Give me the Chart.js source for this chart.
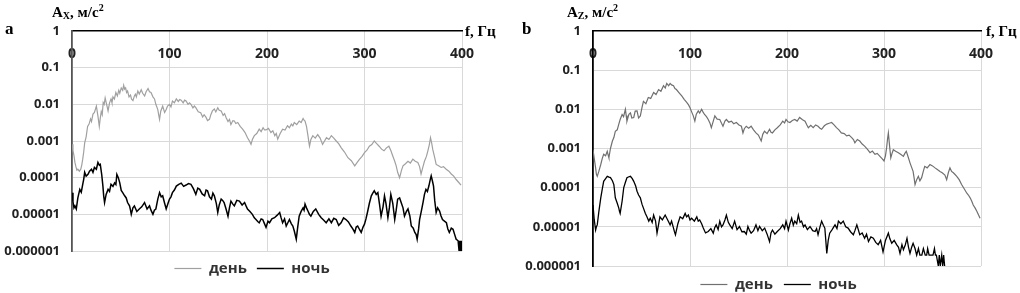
<!DOCTYPE html>
<html>
<head>
<meta charset="utf-8">
<script src="https://cdn.jsdelivr.net/npm/chart.js@4.4.0/dist/chart.umd.min.js"></script>
<style>
body { margin:0; width:1020px; height:293px; overflow:hidden; background:#fff; position:relative; }
canvas { position:absolute; top:0; }
.lbl { position:absolute; font-family:"Liberation Serif", serif; font-weight:bold; color:#000; white-space:nowrap; line-height:1; }
.lbl sub { font-size:10px; vertical-align:-2px; }
.lbl sup { font-size:10px; vertical-align:6px; }
</style>
</head>
<body>
<canvas id="chartA" width="510" height="286" style="left:0"></canvas>
<canvas id="chartB" width="510" height="302" style="left:510px"></canvas>

<div class="lbl" style="left:5px;top:20px;font-size:17px">a</div>
<div class="lbl" style="left:52px;top:3px;font-size:15px">A<sub>X</sub>, м/с<sup>2</sup></div>
<div class="lbl" style="left:465px;top:24px;font-size:15px">f, Гц</div>

<div class="lbl" style="left:522px;top:20px;font-size:17px">b</div>
<div class="lbl" style="left:567px;top:3px;font-size:15px">A<sub>Z</sub>, м/с<sup>2</sup></div>
<div class="lbl" style="left:986px;top:24px;font-size:15px">f, Гц</div>

<script>
// оси
const freqTicks = [0, 100, 200, 300, 400];
const accelTicks = [1e-6, 1e-5, 1e-4, 1e-3, 1e-2, 1e-1, 1];
const seriesNames = ["день", "ночь"];

// a - Ax, день
const aDayHz = [0,1,2,3,4,5,6,7.5,9,10,11,12,13,14.5,16,17.5,19,20,21.5,23,25,26.5,28,29,30,31,32,33,34,35.5,37,38.5,40,41,42,43.5,45,46.5,48,49,50.5,52,53,54,55,56,57,58.5,60,61,62.5,64,65,66,67.5,69,71,72.5,74.5,76,78,79.5,81,83,84.6,86,88,89,89.8,91,93,95,96.6,98,100,101.5,103,105,107,109,110.5,112,114,115.5,117,119,120.5,122,124,125.5,127,129.5,132,134,135.5,137.5,139,141,142.5,144,146,147.5,149.5,151,153,155,156.5,158,160,161.5,163,165,166.5,168,170,172.5,175,177.5,180,182,183.6,185,187,189.5,192,194,196,197.5,199,201.5,204,206,208,209.5,211,213.5,216,218.5,221,223,225,226.5,228,230.5,233,235,237,238,239,240.5,242,243,243.6,245,247,249.5,252,254.5,257,259,261,263.5,266,268.5,271,273.5,276,279.5,283,286.5,290,292.5,295,297.5,300,302.5,305,307.5,310,312.5,315,317.5,320,322.5,325,327,329,331,332.5,334,336,338,339.5,342,344.6,347,349.6,352,354.7,356.5,358,360,361.5,363.5,365,366.5,367.7,369,370,372,373.5,376,378.6,381,383.8,386.5,389,391.5,394,396.5,399];
const aDayVal = [8.1e-4,5.5e-4,4.0e-4,2.6e-4,2.0e-4,1.6e-4,1.7e-4,1.5e-4,1.7e-4,2.2e-4,3.2e-4,5.0e-4,8.9e-4,1.3e-3,2.5e-3,2.9e-3,4.0e-3,3.4e-3,5.4e-3,6.0e-3,8.9e-3,5.0e-3,2.5e-3,4.2e-3,6.3e-3,5.2e-3,1.12e-2,1.0e-2,1.5e-2,1.0e-2,6.6e-3,1.1e-2,1.4e-2,1.1e-2,1.6e-2,1.4e-2,2.1e-2,1.7e-2,2.4e-2,2.0e-2,2.8e-2,2.4e-2,3.3e-2,2.6e-2,2.8e-2,2.1e-2,2.3e-2,1.6e-2,1.8e-2,1.4e-2,1.26e-2,1.7e-2,1.9e-2,1.6e-2,2.3e-2,1.9e-2,2.5e-2,2.0e-2,1.7e-2,2.2e-2,2.7e-2,2.2e-2,2.1e-2,1.6e-2,1.4e-2,1.0e-2,7.2e-3,5.0e-3,3.9e-3,6.5e-3,8.9e-3,6.0e-3,7.2e-3,9.0e-3,1.0e-2,8.5e-3,1.23e-2,1.1e-2,1.4e-2,1.2e-2,1.35e-2,1.3e-2,1.1e-2,1.3e-2,1.23e-2,1.0e-2,1.1e-2,1.0e-2,8.0e-3,9.0e-3,8.1e-3,6.3e-3,5.9e-3,4.5e-3,5.2e-3,4.4e-3,3.6e-3,3.9e-3,5.3e-3,6.6e-3,7.5e-3,6.2e-3,8.1e-3,6.9e-3,6.6e-3,5.0e-3,5.6e-3,4.4e-3,3.4e-3,3.9e-3,2.8e-3,3.6e-3,3.5e-3,3.0e-3,3.2e-3,2.5e-3,2.1e-3,1.7e-3,1.23e-3,1.0e-3,8.1e-4,1.1e-3,1.4e-3,1.6e-3,2.1e-3,1.8e-3,2.3e-3,2.0e-3,2.0e-3,2.2e-3,1.7e-3,1.9e-3,1.4e-3,1.6e-3,1.12e-3,1.6e-3,2.1e-3,2.0e-3,2.6e-3,2.3e-3,2.9e-3,2.6e-3,3.2e-3,2.8e-3,3.5e-3,3.2e-3,4.1e-3,3.7e-3,3.5e-3,2.5e-3,1.4e-3,9.0e-4,7.2e-4,1.1e-3,1.4e-3,1.2e-3,1.5e-3,1.2e-3,8.1e-4,1.0e-3,1.23e-3,1.1e-3,1.4e-3,1.2e-3,1.0e-3,8.5e-4,6.6e-4,5.0e-4,3.5e-4,2.9e-4,2.1e-4,2.6e-4,3.2e-4,3.8e-4,4.8e-4,5.6e-4,7.2e-4,8.0e-4,1.0e-3,8.5e-4,7.2e-4,6.0e-4,5.4e-4,6.5e-4,7.2e-4,5.5e-4,3.9e-4,2.8e-4,2.1e-4,1.4e-4,1.0e-4,1.6e-4,2.1e-4,2.4e-4,2.8e-4,2.5e-4,3.2e-4,2.8e-4,2.6e-4,2.0e-4,1.26e-4,2.0e-4,2.8e-4,3.8e-4,5.4e-4,8.0e-4,1.23e-3,8.5e-4,5.9e-4,3.5e-4,2.3e-4,2.1e-4,1.9e-4,2.0e-4,1.7e-4,1.5e-4,1.26e-4,1.1e-4,8.9e-5,7.5e-5,6.3e-5];

// a - Ax, ночь
const aNightHz = [0,1,2,3,4.4,6,8,9.5,11,12,13,14.5,16.4,18,20,21.5,23,25,26.6,28,29,30.5,31.7,32.5,33.4,35,37,38.5,40,42,43.7,45,46,47.5,49,50.5,52,54,55.6,57,59,60,60.8,62.5,64,66.5,69,71.5,74.4,77,79.5,81,83,84.5,86,88,89.8,91.5,93,95,96.6,98.5,100,101.5,103,105,107,109.5,112,114.5,117,119.5,122,124.5,127,129,131,133.5,136,137.5,139,141,143,144.5,146,148,149.5,151,153,154.5,156,158,160,161.5,163,165,166.5,169,171.7,174.5,177,178.5,180,182.5,185,187,188.7,190.5,192,194,195.6,197.5,199,201,202.6,205,207.7,210.5,213,214.5,216,218,219.7,221.5,223,225,226.5,228,230,231.5,233,235,237,238,239,240.5,242,243.5,245,247.5,250,253,255.6,258,260.7,263.5,266,268.5,271,273.5,276,278.5,281,283.5,286,288,290,291.5,293,295,296.6,298.5,300,301.5,303,305,307,308.5,310,312,313.7,315.5,317,319,320.5,322,324,325.5,327,329,331,332.5,334,336,337.6,339.5,341,343,344.6,346.5,348,350,351.6,353,354,355.5,356.5,358.5,360,361.5,363,364.5,366,367.5,368.4,369.5,370.8,372,373.5,375,377,378.5,380,382,384,385.5,387,389,390.8,392.5,394,395,396,397,397.5,398,398.5,399,399.5,400];
const aNightVal = [3.9e-5,2.2e-5,1.5e-5,1.7e-5,1.4e-5,2.8e-5,4.8e-5,4.0e-5,6.6e-5,9.0e-5,1.4e-4,1.1e-4,1.23e-4,1.5e-4,1.7e-4,1.4e-4,1.9e-4,1.7e-4,2.6e-4,2.2e-4,2.3e-4,1.2e-4,5.9e-5,3.2e-5,2.1e-5,3.5e-5,4.8e-5,4.2e-5,6.6e-5,5.8e-5,7.2e-5,6.5e-5,1.23e-4,1.0e-4,7.2e-5,4.5e-5,3.9e-5,3.2e-5,2.8e-5,2.1e-5,1.7e-5,1.3e-5,1.0e-5,1.5e-5,1.7e-5,1.2e-5,1.4e-5,1.6e-5,2.1e-5,1.4e-5,1.7e-5,1.3e-5,1.0e-5,1.3e-5,1.4e-5,2.6e-5,3.9e-5,3.0e-5,3.2e-5,2.0e-5,1.4e-5,2.0e-5,2.6e-5,3.0e-5,3.9e-5,4.6e-5,5.9e-5,6.6e-5,7.1e-5,5.8e-5,6.3e-5,6.9e-5,6.6e-5,5.0e-5,3.5e-5,5.2e-5,4.8e-5,3.6e-5,3.2e-5,4.6e-5,4.4e-5,3.0e-5,2.6e-5,3.8e-5,3.2e-5,2.0e-5,1.12e-5,1.8e-5,2.6e-5,2.4e-5,2.1e-5,1.4e-5,8.9e-6,1.5e-5,2.3e-5,1.9e-5,1.7e-5,2.4e-5,2.3e-5,1.8e-5,2.1e-5,1.7e-5,1.4e-5,1.2e-5,1.0e-5,8.0e-6,7.2e-6,6.4e-6,5.9e-6,7.5e-6,7.2e-6,5.5e-6,4.4e-6,6.5e-6,5.9e-6,7.5e-6,8.1e-6,9.5e-6,1.12e-5,8.0e-6,5.9e-6,7.5e-6,4.8e-6,6.0e-6,7.2e-6,5.5e-6,4.8e-6,3.5e-6,2.1e-6,4.5e-6,8.9e-6,1.2e-5,1.5e-5,1.3e-5,1.9e-5,1.5e-5,1.23e-5,1.0e-5,8.9e-6,1.2e-5,1.4e-5,1.0e-5,8.1e-6,7.0e-6,5.9e-6,7.5e-6,5.9e-6,7.8e-6,7.2e-6,5.0e-6,5.9e-6,8.0e-6,7.2e-6,6.2e-6,4.8e-6,4.0e-6,3.2e-6,4.5e-6,4.8e-6,3.8e-6,3.2e-6,4.5e-6,5.4e-6,7.5e-6,1.12e-5,2.0e-5,3.2e-5,3.8e-5,4.4e-5,3.5e-5,3.9e-5,1.8e-5,8.9e-6,1.6e-5,3.2e-5,2.0e-5,8.1e-6,1.5e-5,3.5e-5,2.0e-5,7.2e-6,1.3e-5,2.6e-5,2.8e-5,2.1e-5,1.5e-5,8.9e-6,1.2e-5,1.4e-5,9.0e-6,4.8e-6,4.2e-6,3.2e-6,2.8e-6,2.1e-6,4.0e-6,7.2e-6,1.3e-5,2.1e-5,3.5e-5,4.8e-5,4.2e-5,5.9e-5,9.0e-5,1.12e-4,8.5e-5,5.9e-5,2.4e-5,1.12e-5,1.5e-5,1.23e-5,9.0e-6,7.2e-6,6.5e-6,5.9e-6,4.0e-6,3.2e-6,4.2e-6,3.9e-6,2.8e-6,2.1e-6,2.0e-6,1.9e-6,1e-6,1.9e-6,1e-6,1.9e-6,1e-6,1.9e-6,1e-6];

// b - Az, день
const bDayHz = [0,1.3,2.7,3.5,4.4,6,8,9.5,11,13,14.7,15.5,16.4,18,20,21.5,23,25,26.6,28,30,31.5,33.4,34.2,35,37,38.6,40,42,43.5,45.4,47,48.8,50.5,52,54.5,57,59.5,62.5,65,67.6,70,72.7,74.5,76,78,79.5,81,83,84.5,86,89,91.5,94,96.6,98.5,100,101.8,103.4,105,106.5,108.5,110,112,113.5,115,117,118.8,120.5,122,124,125.6,128,130.7,132.5,134,136,137.5,140,142.7,145,147.8,150.5,153,154.6,156,158,160.5,163,165.5,168,170.5,173.4,175,176.8,179.5,182,183.5,185,187.5,190,193,195.6,197.5,199,201,203,205.5,208,210.5,213,216,218.6,220.5,222,224.5,227,229.5,232,234,235.7,238.5,241,243.5,246,248.5,251,253.5,256,259,261.5,264,266.7,268.5,270,272.5,275,277.5,280,283,285.6,288,290.7,293,295.8,298,300,301.5,302.7,303.7,304.5,305.7,307,308.3,309.6,312,314.8,317.5,320,321.5,323,325,326.8,328.5,330,331,332,333.7,335.4,337,338.8,340.5,342,344.5,347.4,350,352.6,355,357.7,360,362.8,364.6,366.3,368,369.7,371.5,373,375,377.5,380,382.5,385.4,387,388.8,390.5,392,394,395.7,397.5,399];
const bDayVal = [9.3e-4,5.5e-4,3.2e-4,2.2e-4,1.95e-4,2.6e-4,3.9e-4,5.5e-4,7.1e-4,6.5e-4,8.5e-4,7.0e-4,5.8e-4,1.0e-3,1.55e-3,1.9e-3,2.75e-3,3.0e-3,4.2e-3,5.5e-3,7.4e-3,6.5e-3,1.0e-2,7.0e-3,5.0e-3,7.5e-3,8.1e-3,6.0e-3,6.2e-3,9.0e-3,9.1e-3,6.0e-3,6.8e-3,1.1e-2,1.6e-2,1.4e-2,2.0e-2,1.9e-2,2.7e-2,2.4e-2,3.2e-2,2.9e-2,4.0e-2,3.5e-2,4.6e-2,4.0e-2,4.6e-2,4.2e-2,4.0e-2,3.4e-2,3.2e-2,2.6e-2,2.2e-2,1.8e-2,1.5e-2,1.3e-2,1.1e-2,8.5e-3,6.8e-3,5.0e-3,7.5e-3,9.1e-3,8.0e-3,1.0e-2,8.5e-3,7.4e-3,6.5e-3,5.5e-3,4.5e-3,3.4e-3,5.0e-3,6.8e-3,5.6e-3,5.5e-3,4.4e-3,3.7e-3,5.0e-3,5.5e-3,4.7e-3,5.0e-3,4.3e-3,4.6e-3,4.0e-3,3.7e-3,2.5e-3,3.2e-3,3.7e-3,3.3e-3,3.7e-3,3.0e-3,2.5e-3,2.2e-3,1.55e-3,2.3e-3,2.75e-3,2.4e-3,3.1e-3,2.6e-3,2.5e-3,3.0e-3,3.4e-3,4.0e-3,5.0e-3,4.5e-3,5.5e-3,4.8e-3,4.6e-3,5.2e-3,5.5e-3,5.0e-3,6.2e-3,5.4e-3,5.0e-3,4.0e-3,3.4e-3,3.9e-3,3.4e-3,4.0e-3,3.7e-3,3.3e-3,3.1e-3,3.8e-3,4.2e-3,4.4e-3,4.6e-3,4.0e-3,3.4e-3,3.0e-3,2.5e-3,2.4e-3,2.1e-3,2.2e-3,1.9e-3,1.7e-3,1.4e-3,1.7e-3,1.55e-3,1.3e-3,1.15e-3,9.5e-4,7.8e-4,8.6e-4,7.1e-4,7.5e-4,6.3e-4,5.5e-4,4.8e-4,6.5e-4,1.05e-3,1.8e-3,2.5e-3,1.2e-3,5.8e-4,7.5e-4,9.3e-4,8.5e-4,7.8e-4,7.0e-4,6.3e-4,7.5e-4,8.5e-4,6.0e-4,4.3e-4,3.3e-4,2.6e-4,1.8e-4,1.2e-4,1.6e-4,1.95e-4,1.5e-4,1.8e-4,2.6e-4,3.5e-4,3.2e-4,3.9e-4,3.6e-4,3.2e-4,2.9e-4,2.6e-4,2.4e-4,2.1e-4,1.6e-4,2.4e-4,3.2e-4,2.6e-4,2.4e-4,2.2e-4,1.95e-4,1.6e-4,1.2e-4,9.5e-5,7.2e-5,6.5e-5,5.5e-5,4.5e-5,3.6e-5,3.0e-5,2.5e-5,2.0e-5,1.66e-5];

// b - Az, ночь
const bNightHz = [0,1.3,2.7,3.5,4.4,6,8,9.5,11,13,14.7,16.5,18,20,21.5,22.3,23,25,26.6,27.3,28,30,31.7,33.5,35,37,38.6,40.5,42,44,45.4,47,48.8,50.5,52,54,55.6,57.5,59,61,62.5,64.5,66,67.5,69,71.5,74.4,77,79.5,81,83,84,85,87.5,89.8,92.5,95,96.5,98.3,100,101.7,104.5,107,108.5,110,112,113.7,116,118.8,121.5,124,125.5,127,129,130.7,132.5,134,136,137.5,139.5,141,143.5,146,148.5,151,153.5,156,158,159.7,161.5,163,165.5,168,170,171.7,174.5,177,179.5,182,183.5,185,187.5,190,193,195.6,197.5,199,201.4,203,204.8,206.5,208,210,211.7,213.5,215,217,218.6,221,223.7,226.5,229,230.5,232,234,235.7,237.5,239,240,241,242.5,244,246.5,249.5,251.5,253,255.5,258,260.5,263,265.5,268.4,270,272,273.5,275,277.5,280,282,284,286.5,289,291.5,294,296.5,299,301.5,304.5,306,308,310.5,313,315,316.5,318.5,320,322,323.7,325.3,326.8,328.5,330,332,333.7,335.5,337,339,340.6,342.5,344,345,346.5,349,350.5,352,353,354,356,357,358,359.5,360.5,361.5,362.5];
const bNightVal = [3.6e-5,1.5e-5,8.3e-6,1.0e-5,1.12e-5,2.4e-5,5.5e-5,9.0e-5,1.45e-4,1.7e-4,1.95e-4,1.85e-4,1.8e-4,1.5e-4,1.2e-4,8.0e-5,5.5e-5,4.0e-5,3.0e-5,2.5e-5,2.2e-5,4.5e-5,1.0e-4,1.4e-4,1.8e-4,1.9e-4,1.95e-4,1.7e-4,1.45e-4,1.1e-4,8.1e-5,6.5e-5,5.5e-5,3.8e-5,3.0e-5,2.2e-5,1.8e-5,1.4e-5,1.66e-5,1.3e-5,2.0e-5,1.4e-5,6.9e-6,1.1e-5,1.8e-5,1.5e-5,2.0e-5,1.5e-5,1.12e-5,1.4e-5,9.3e-6,7.5e-6,6.3e-6,1.2e-5,1.8e-5,1.6e-5,2.2e-5,1.8e-5,2.0e-5,1.5e-5,1.66e-5,1.4e-5,1.8e-5,1.4e-5,1.5e-5,1.2e-5,9.3e-6,7.0e-6,7.6e-6,9.0e-6,6.9e-6,9.5e-6,1.12e-5,8.5e-6,1.4e-5,1.0e-5,1.12e-5,1.5e-5,2.0e-5,1.3e-5,1.12e-5,9.0e-6,1.4e-5,8.5e-6,1.02e-5,7.5e-6,7.6e-6,6.5e-6,1.02e-5,8.0e-6,6.9e-6,8.0e-6,1.12e-5,8.0e-6,1.02e-5,8.0e-6,9.3e-6,6.5e-6,4.2e-6,7.0e-6,8.3e-6,6.5e-6,7.6e-6,9.0e-6,1.12e-5,9.0e-6,1.4e-5,8.3e-6,1.2e-5,1.66e-5,1.1e-5,1.4e-5,1.2e-5,2.0e-5,1.3e-5,1.4e-5,1.0e-5,1.12e-5,8.5e-6,1.02e-5,8.0e-6,7.6e-6,9.0e-6,6.3e-6,1.0e-5,1.4e-5,1.1e-5,9.3e-6,4.5e-6,2.1e-6,4.5e-6,6.9e-6,8.5e-6,1.12e-5,9.0e-6,1.4e-5,1.2e-5,1.4e-5,1.0e-5,9.3e-6,7.5e-6,6.3e-6,8.0e-6,1.12e-5,8.5e-6,6.3e-6,7.0e-6,5.1e-6,6.5e-6,4.2e-6,5.5e-6,5.1e-6,4.0e-6,3.5e-6,4.5e-6,2.3e-6,4.5e-6,6.9e-6,5.0e-6,3.8e-6,4.5e-6,3.5e-6,3.0e-6,2.1e-6,3.5e-6,2.6e-6,3.5e-6,5.1e-6,3.0e-6,2.1e-6,3.0e-6,3.8e-6,2.8e-6,1.9e-6,2.8e-6,1.9e-6,1.9e-6,2.8e-6,1.9e-6,1.9e-6,2.8e-6,1.9e-6,1.9e-6,1.9e-6,2.8e-6,1.9e-6,1.9e-6,1e-6,1.9e-6,1e-6,1.9e-6,1e-6,1.9e-6,1e-6];

Chart.defaults.font.family = "'Open Sans', sans-serif";

function toPoints(hz, vals) {
  return hz.map((f, i) => ({ x: f, y: vals[i] }));
}

// сдвиг легенды вправо, как на картинке
const legendShift = {
  id: 'legendShift',
  afterLayout(chart, args, opts) {
    if (chart.legend) {
      chart.legend.left += opts.dx;
      chart.legend.right += opts.dx;
    }
  }
};

function makeChart(id, dayHz, dayVal, nightHz, nightVal, dayColor, yBorder, yWidth, padRight, nightWidth, legendPad, legendDx) {
  const ctx = document.getElementById(id).getContext("2d");
  return new Chart(ctx, {
    type: 'line',
    data: {
      datasets: [
        { label: seriesNames[0], data: toPoints(dayHz, dayVal), borderColor: dayColor, borderWidth: 1.2, pointRadius: 0, tension: 0 },
        { label: seriesNames[1], data: toPoints(nightHz, nightVal), borderColor: '#000', borderWidth: nightWidth, pointRadius: 0, tension: 0 }
      ]
    },
    plugins: [legendShift],
    options: {
      responsive: false,
      animation: false,
      layout: { padding: { top: 31, right: padRight, left: 0, bottom: 0 } },
      plugins: {
        tooltip: { enabled: false },
        legendShift: { dx: legendDx },
        legend: {
          position: 'bottom',
          labels: {
            usePointStyle: true, pointStyle: 'line', pointStyleWidth: 27,
            padding: legendPad, color: '#333',
            font: { size: 15, weight: 'bold' }
          }
        }
      },
      scales: {
        x: {
          type: 'linear', min: 0, max: 400,
          position: { y: 1 },
          afterBuildTicks: s => { s.ticks = freqTicks.map(v => ({ value: v })); },
          ticks: { padding: 15, color: '#222', font: { size: 14, weight: 'bold' } },
          grid: { drawTicks: false, color: c => c.tick && c.tick.value === 0 ? 'rgba(0,0,0,0)' : '#d9d9d9' },
          border: { color: '#000', width: 1.5 }
        },
        y: {
          type: 'logarithmic', min: 1e-6, max: 1,
          afterBuildTicks: s => { s.ticks = accelTicks.map(v => ({ value: v })); },
          afterFit: s => { s.width = yWidth; },
          ticks: {
            padding: 12, color: '#222', font: { size: 13, weight: 'bold' },
            callback: v => v >= 1 ? '1' : v.toFixed(Math.round(-Math.log10(v)))
          },
          grid: { drawTicks: false, color: c => c.tick && c.tick.value === 1 ? 'rgba(0,0,0,0)' : '#d9d9d9' },
          border: { color: yBorder, width: 1.8 }
        }
      }
    }
  });
}

makeChart("chartA", aDayHz, aDayVal, aNightHz, aNightVal, '#a0a0a0', '#555', 72, 48, 1.5, 10, 21);
makeChart("chartB", bDayHz, bDayVal, bNightHz, bNightVal, '#707070', '#000', 83, 39, 1.3, 11, 33);
</script>
</body>
</html>
